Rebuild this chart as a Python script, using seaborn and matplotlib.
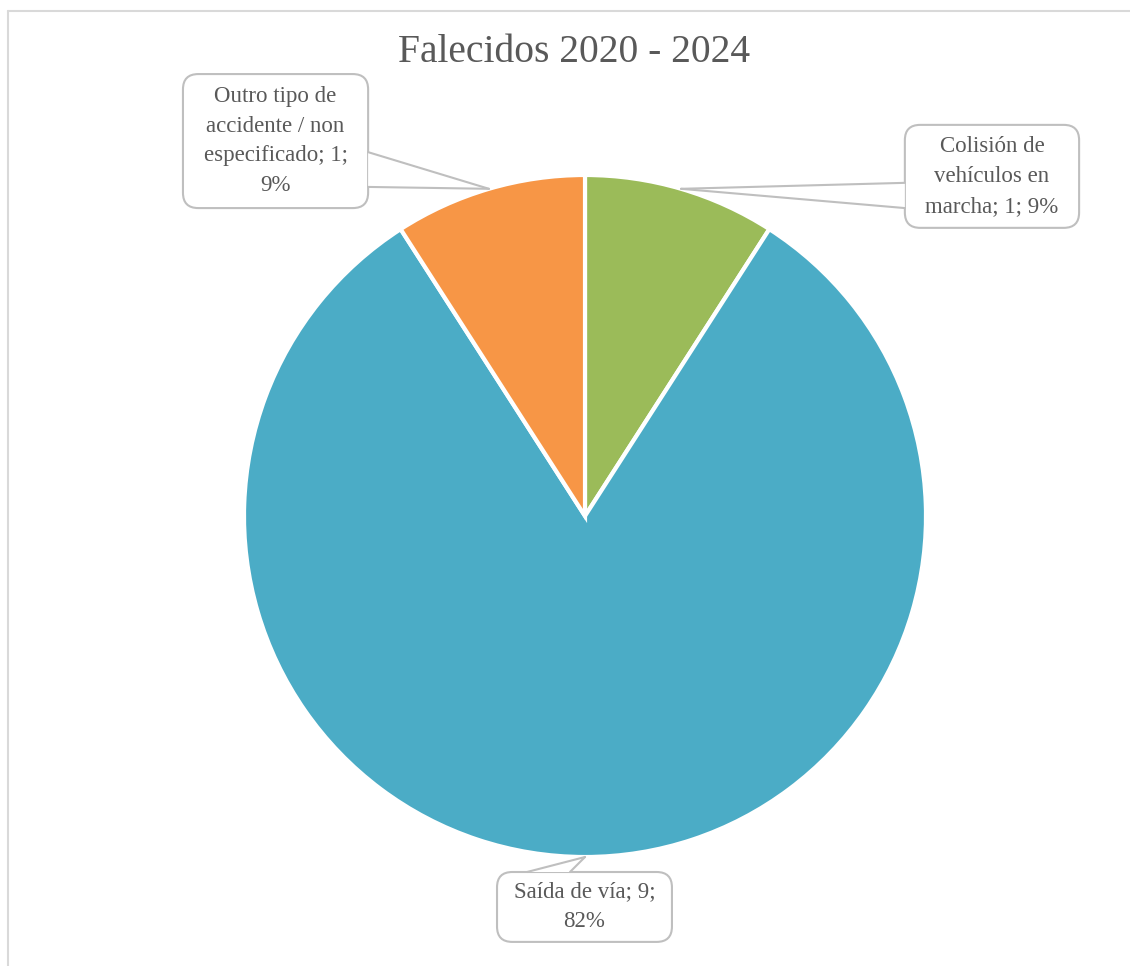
import textwrap

import matplotlib.pyplot as plt
import numpy as np
import seaborn as sns
from matplotlib.lines import Line2D
from matplotlib.patches import FancyBboxPatch, Polygon

# Data
categories = ["Colisión de vehículos en marcha", "Saída de vía",
              "Outro tipo de accidente / non especificado"]
deaths = [1, 9, 1]
colors = ["#9BBB59", "#4BACC6", "#F79646"]
title = "Falecidos 2020 - 2024"

sns.set_theme(style="white")
plt.rcParams["font.family"] = ["Liberation Serif", "DejaVu Serif"]
text_gray = "#595959"
line_gray = "#BFBFBF"

fig = plt.figure(figsize=(11.3, 9.66), dpi=100)
ax = fig.add_axes([244 / 1130, 109 / 966, 682 / 1130, 682 / 966])

wedges, _ = ax.pie(deaths, colors=colors, startangle=90, counterclock=False,
                   wedgeprops=dict(edgecolor="white", linewidth=3))
ax.set_xlim(-1, 1)
ax.set_ylim(-1, 1)
ax.set_aspect("equal")
ax.axis("off")

total = sum(deaths)
labels = [textwrap.fill(f"{c}; {v}; {round(100 * v / total)}%", width=16)
          for c, v in zip(categories, deaths)]

# callout layout (pie radius units): box x0, x1, y0, y1 and pointer base
boxes = [
    dict(box=(0.938, 1.449, 0.845, 1.147), base=[(0.938, 0.977), (0.938, 0.903)]),
    dict(box=(-0.258, 0.255, -1.249, -1.044), base=[(-0.170, -1.044), (-0.044, -1.044)]),
    dict(box=(-1.179, -0.636, 0.903, 1.296), base=[(-0.636, 1.067), (-0.636, 0.965)]),
]

for w, lab, b in zip(wedges, labels, boxes):
    x0, x1, y0, y1 = b["box"]
    mid = np.deg2rad((w.theta1 + w.theta2) / 2)
    tip = (w.r * np.cos(mid), w.r * np.sin(mid))

    ax.add_patch(FancyBboxPatch((x0, y0), x1 - x0, y1 - y0,
                                boxstyle="round,pad=0,rounding_size=0.045",
                                fc="white", ec=line_gray, lw=1.5,
                                clip_on=False, zorder=5))
    (ax_, ay_), (bx_, by_) = b["base"]
    ax.add_patch(Polygon([(ax_, ay_), tip, (bx_, by_)], closed=True,
                         fc="white", ec="none", clip_on=False, zorder=6))
    for px, py in b["base"]:
        ax.add_line(Line2D([px, tip[0]], [py, tip[1]], color=line_gray,
                           lw=1.5, clip_on=False, zorder=7))
    ax.text((x0 + x1) / 2, (y0 + y1) / 2, lab, ha="center", va="center",
            fontsize=16.5, color=text_gray, linespacing=1.55, zorder=8)

fig.text(574 / 1130, 1 - 52 / 966, title, ha="center", va="center",
         fontsize=28.5, color=text_gray)

# chart area border (top and left edges visible)
fig.add_artist(Line2D([8 / 1130, 1.0], [1 - 11 / 966] * 2,
                      transform=fig.transFigure, color="#D9D9D9", lw=1.5))
fig.add_artist(Line2D([8 / 1130] * 2, [0.0, 1 - 11 / 966],
                      transform=fig.transFigure, color="#D9D9D9", lw=1.5))

fig.savefig("out.png", dpi=100, facecolor="white")
